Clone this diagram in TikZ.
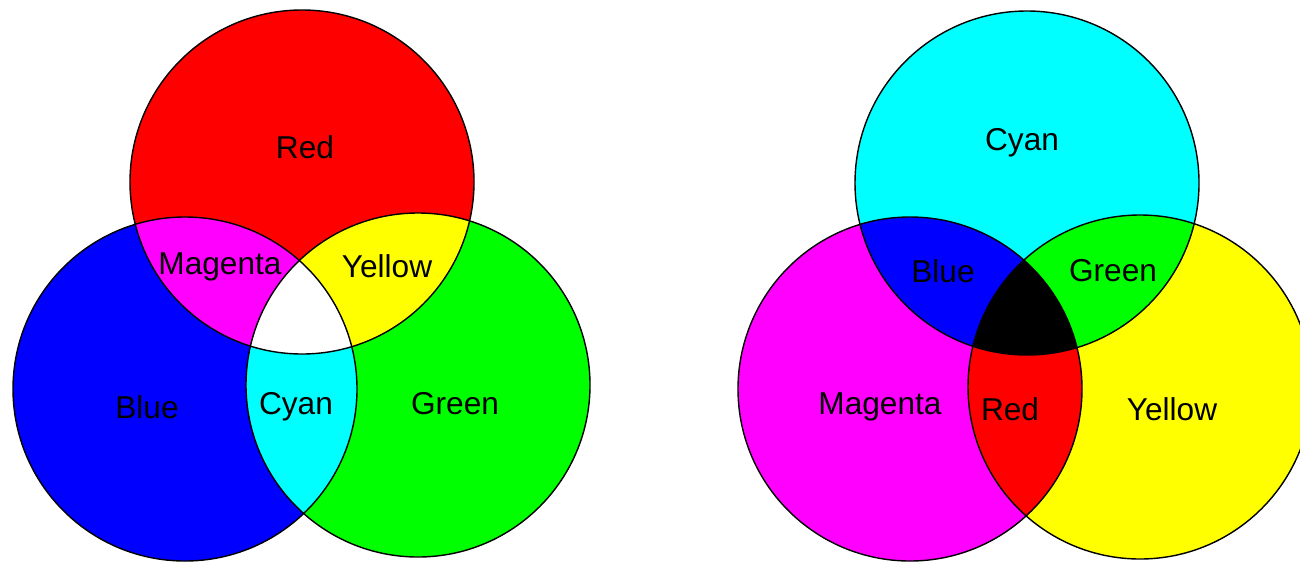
\documentclass[tikz,border=0pt]{standalone}
\usepackage{fontspec}
\setmainfont{Liberation Sans}
\usetikzlibrary{positioning}
\definecolor{lred}{RGB}{255,0,0}
\definecolor{lgreen}{RGB}{0,255,0}
\definecolor{lblue}{RGB}{0,0,255}
\definecolor{lcyan}{RGB}{0,255,255}
\definecolor{lmagenta}{RGB}{255,0,255}
\definecolor{lyellow}{RGB}{255,255,0}

\begin{document}
\begin{tikzpicture}[
    x=0.02cm, y=0.02cm,
    every node/.style={font=\fontsize{18}{21}\selectfont, text=black, inner sep=0pt},
    rim/.style={draw=black, line width=0.8pt},
]
\def\R{172}
\clip (0,0) rectangle (1300,-561);
\fill[white] (0,0) rectangle (1300,-561);

% centres of the six circles
\coordinate (aRed)   at (302,-182);
\coordinate (aBlue)  at (185,-389);
\coordinate (aGreen) at (418,-385);
\coordinate (sCyan)    at (1027,-183);
\coordinate (sMagenta) at (910,-389);
\coordinate (sYellow)  at (1140,-387);

% additive mixing: light
\foreach \c/\col in {aRed/lred, aBlue/lblue, aGreen/lgreen}{
    \fill[\col] (\c) circle (\R);
}
\begin{scope}
    \clip (aRed) circle (\R);
    \fill[lmagenta] (aBlue) circle (\R);
    \fill[lyellow] (aGreen) circle (\R);
\end{scope}
\begin{scope}
    \clip (aBlue) circle (\R);
    \fill[lcyan] (aGreen) circle (\R);
    \clip (aRed) circle (\R);
    \fill[white] (aGreen) circle (\R);
\end{scope}

% subtractive mixing: pigment
\foreach \c/\col in {sCyan/lcyan, sMagenta/lmagenta, sYellow/lyellow}{
    \fill[\col] (\c) circle (\R);
}
\begin{scope}
    \clip (sCyan) circle (\R);
    \fill[lblue] (sMagenta) circle (\R);
    \fill[lgreen] (sYellow) circle (\R);
\end{scope}
\begin{scope}
    \clip (sMagenta) circle (\R);
    \fill[lred] (sYellow) circle (\R);
    \clip (sCyan) circle (\R);
    \fill[black] (sYellow) circle (\R);
\end{scope}

% outlines on top
\foreach \c in {aRed, aBlue, aGreen, sCyan, sMagenta, sYellow}{
    \draw[rim] (\c) circle (\R);
}

% labels
\node (tRed)     at (305,-147) {Red};
\node (tMagenta) at (220,-267) {Magenta};
\node (tYellow)  at (387,-266) {Yellow};
\node (tBlue)    at (147,-407) {Blue};
\node (tCyan)    at (296,-407) {Cyan};
\node (tGreen)   at (455,-404) {Green};

\node (uCyan)    at (1022,-143) {Cyan};
\node (uBlue)    at (943,-271)  {Blue};
\node (uGreen)   at (1113,-271) {Green};
\node (uMagenta) at (880,-407)  {Magenta};
\node (uRed)     at (1010,-409) {Red};
\node (uYellow)  at (1172,-409) {Yellow};
\end{tikzpicture}
\end{document}
